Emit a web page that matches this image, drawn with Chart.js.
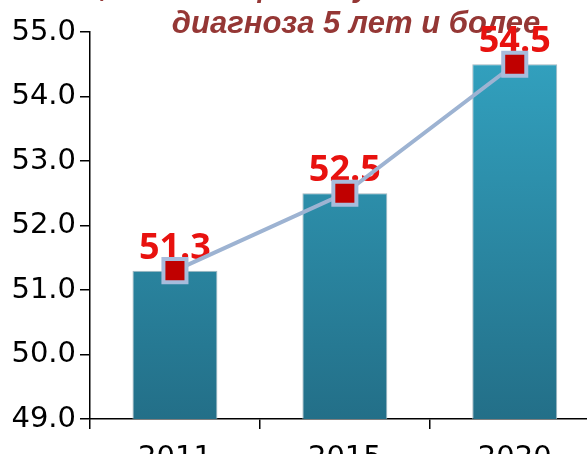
<!DOCTYPE html>
<html>
<head>
<meta charset="utf-8">
<script src="https://cdn.jsdelivr.net/npm/chart.js@4"></script>
<style>
  html, body { margin: 0; padding: 0; overflow: hidden; background: #fff; }
  #wrap { position: absolute; left: 0; top: 0; width: 620px; height: 480px; }
</style>
</head>
<body>
<div id="wrap"><canvas id="grafico" width="620" height="480"></canvas></div>
<script>
// dados do gráfico
var anos = ['2011', '2015', '2020'];
var valores = [51.3, 52.5, 54.5];
var tituloLinhas = ['Удельный вес больных, состоящих на учёте с момента установления', 'диагноза 5 лет и более'];
var eixoMin = 49;
var eixoMax = 55;

// título cortado no topo (desenhado antes das barras)
var tituloPlugin = {
    id: 'tituloCortado',
    beforeDatasetsDraw: function (chart) {
        var ctx = chart.ctx;
        ctx.save();
        ctx.fillStyle = '#953735';
        ctx.font = 'italic bold 31px "Liberation Sans", Arial, sans-serif';
        ctx.textAlign = 'center';
        ctx.textBaseline = 'alphabetic';
        ctx.fillText(tituloLinhas[0], 300, -4);
        ctx.fillText(tituloLinhas[1], 356, 33);
        ctx.restore();
    }
};

// rótulos vermelhos, por baixo da linha
var rotulosPlugin = {
    id: 'rotulos',
    afterDatasetDraw: function (chart, args) {
        if (args.index !== 1) return;
        var pontos = chart.getDatasetMeta(0).data;
        var ctx = chart.ctx;
        ctx.save();
        ctx.fillStyle = '#e8120f';
        ctx.font = 'bold 36px "Open Sans", "Liberation Sans", sans-serif';
        ctx.textAlign = 'center';
        ctx.textBaseline = 'alphabetic';
        pontos.forEach(function (p, i) {
            ctx.fillText(valores[i].toFixed(1), p.x, p.y - 12);
        });
        ctx.restore();
    }
};

function gradienteBarra(context) {
    var area = context.chart.chartArea;
    if (!area) return '#2e96b2';
    var g = context.chart.ctx.createLinearGradient(0, area.top, 0, area.bottom);
    g.addColorStop(0, '#33a4c2');
    g.addColorStop(1, '#236f88');
    return g;
}

var ctx = document.querySelector('#grafico').getContext('2d');
var grafico = new Chart(ctx, {
    type: 'bar',
    data: {
        labels: anos,
        datasets: [{
            type: 'line',
            data: valores,
            borderColor: '#9db3d2',
            borderWidth: 4,
            pointStyle: 'rect',
            pointRadius: 16.3,
            pointHoverRadius: 16.3,
            pointBackgroundColor: '#c00000',
            pointBorderColor: '#a7bcdc',
            pointBorderWidth: 4,
            tension: 0,
            order: 0
        }, {
            type: 'bar',
            data: valores,
            backgroundColor: gradienteBarra,
            borderColor: '#a3b6bf',
            borderWidth: 1,
            barPercentage: 0.5,
            categoryPercentage: 1.0,
            order: 1
        }]
    },
    options: {
        responsive: false,
        animation: false,
        devicePixelRatio: 1,
        layout: { padding: { top: 32, right: 17, left: 0, bottom: 0 } },
        plugins: {
            legend: { display: false },
            tooltip: { enabled: false },
            title: { display: false }
        },
        scales: {
            x: {
                offset: true,
                grid: { offset: true, drawOnChartArea: false, tickLength: 10, color: '#000', lineWidth: 1.5 },
                border: { color: '#000', width: 1.5 },
                ticks: { color: '#000', font: { family: '"DejaVu Sans", sans-serif', size: 29 }, padding: 12, maxRotation: 0 },
                afterFit: function (scale) { scale.height = 61; }
            },
            y: {
                min: eixoMin,
                max: eixoMax,
                grid: { drawOnChartArea: false, tickLength: 10, color: '#000', lineWidth: 1.5 },
                border: { color: '#000', width: 1.5 },
                ticks: {
                    stepSize: 1,
                    color: '#000',
                    padding: 4,
                    font: { family: '"DejaVu Sans", sans-serif', size: 29 },
                    callback: function (v) { return Number(v).toFixed(1); }
                },
                afterFit: function (scale) { scale.width = 90; }
            }
        }
    },
    plugins: [tituloPlugin, rotulosPlugin]
});
</script>
</body>
</html>
